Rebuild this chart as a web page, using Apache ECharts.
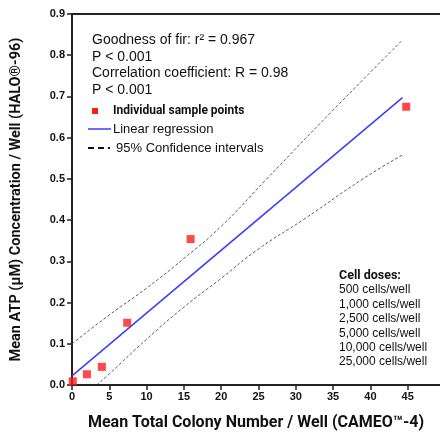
<!DOCTYPE html>
<html>
<head>
<meta charset="utf-8">
<script src="https://cdn.jsdelivr.net/npm/echarts@6/dist/echarts.min.js"></script>
<style>
  html, body { margin: 0; padding: 0; background: #fff; }
  #chart { width: 440px; height: 436px; }
</style>
</head>
<body>
<div id="chart"></div>
<script>
// sample points (CAMEO colonies vs HALO ATP)
var sampleX = [0.1, 2.0, 4.0, 7.4, 15.9, 44.8];
var sampleY = [0.009, 0.026, 0.044, 0.151, 0.354, 0.675];

// fitted line
var regX = [0, 44.3];
var regY = [0.022, 0.697];

// 95% confidence band
var upperX = [0, 5, 10, 15, 20, 26, 35, 44.3];
var upperY = [0.100, 0.170, 0.235, 0.307, 0.385, 0.498, 0.667, 0.837];
var lowerX = [3.3, 5, 10, 15, 19.8, 25, 31, 39, 44.3];
var lowerY = [0.0, 0.027, 0.111, 0.189, 0.256, 0.330, 0.401, 0.500, 0.558];

var statLines = [
  'Goodness of fir: r\u00b2 = 0.967',
  'P < 0.001',
  'Correlation coefficient: R = 0.98',
  'P < 0.001'
];
var doseLines = ['500 cells/well', '1,000 cells/well', '2,500 cells/well',
  '5,000 cells/well', '10,000 cells/well', '25,000 cells/well'];

function pairs(xs, ys) {
  return xs.map(function (x, i) { return [x, ys[i]]; });
}

// the original axis runs to 50 but the figure is cropped a few px before it
var xMax = 50 * 368 / 373;

var chart = echarts.init(document.getElementById('chart'));

var graphics = [];
statLines.forEach(function (t, i) {
  graphics.push({
    type: 'text', x: 92, y: 40 + i * 16.7,
    style: { text: t, font: '14px "Liberation Sans", Arial', fill: '#111', verticalAlign: 'middle' }
  });
});
// legend
graphics.push({ type: 'rect', shape: { x: 92, y: 108, width: 6, height: 6 }, style: { fill: '#ff1a1a' } });
graphics.push({
  type: 'text', x: 113, y: 111,
  style: { text: 'Individual sample points', font: 'bold 12px Roboto', fill: '#111', verticalAlign: 'middle' }
});
graphics.push({ type: 'line', shape: { x1: 88, y1: 129, x2: 111, y2: 129 }, style: { stroke: '#3b3bff', lineWidth: 1.5 } });
graphics.push({
  type: 'text', x: 113, y: 129,
  style: { text: 'Linear regression', font: '13px "Liberation Sans", Arial', fill: '#111', verticalAlign: 'middle' }
});
graphics.push({ type: 'line', shape: { x1: 88, y1: 148, x2: 110, y2: 148 }, style: { stroke: '#111', lineWidth: 2, lineDash: [6, 4] } });
graphics.push({
  type: 'text', x: 116, y: 148,
  style: { text: '95% Confidence intervals', font: '13px "Liberation Sans", Arial', fill: '#111', verticalAlign: 'middle' }
});
// cell doses
graphics.push({
  type: 'text', x: 339, y: 276,
  style: { text: 'Cell doses:', font: 'bold 12.5px Roboto', fill: '#111', verticalAlign: 'middle' }
});
doseLines.forEach(function (t, i) {
  graphics.push({
    type: 'text', x: 339, y: 290 + i * 14.4,
    style: { text: t, font: '12px "Liberation Sans", Arial', fill: '#111', verticalAlign: 'middle' }
  });
});

chart.setOption({
  animation: false,
  grid: { left: 72, top: 14, right: 0, bottom: 50 },
  xAxis: [{
    type: 'value', min: 0, max: xMax, interval: 5,
    name: 'Mean Total Colony Number / Well (CAMEO\u2122-4)',
    nameLocation: 'middle', nameGap: 30,
    nameTextStyle: { fontFamily: 'Roboto', fontWeight: 'bold', fontSize: 16, color: '#111' },
    axisLine: { lineStyle: { color: '#222', width: 2 } },
    axisTick: { length: 5, lineStyle: { color: '#222', width: 1.5 } },
    axisLabel: {
      margin: 6, fontFamily: '"Liberation Sans", Arial', fontWeight: 'bold', fontSize: 11, color: '#111',
      showMaxLabel: false
    },
    splitLine: { show: false }
  }, {
    // top frame line only
    type: 'value', position: 'top', min: 0, max: xMax,
    axisLine: { lineStyle: { color: '#222', width: 2 } },
    axisTick: { show: false }, axisLabel: { show: false }, splitLine: { show: false }
  }],
  yAxis: {
    type: 'value', min: 0, max: 0.9, interval: 0.1,
    name: 'Mean ATP (\u03bcM) Concentration / Well (HALO\u00ae-96)',
    nameLocation: 'middle', nameGap: 48,
    nameTextStyle: { fontFamily: 'Roboto', fontWeight: 'bold', fontSize: 14.5, color: '#111' },
    axisLine: { show: true, lineStyle: { color: '#222', width: 2 } },
    axisTick: { show: true, length: 5, lineStyle: { color: '#222', width: 1.5 } },
    axisLabel: {
      margin: 7, fontFamily: '"Liberation Sans", Arial', fontWeight: 'bold', fontSize: 11, color: '#111',
      formatter: function (v) { return v.toFixed(1); }
    },
    splitLine: { show: false }
  },
  series: [
    {
      type: 'line', data: pairs(upperX, upperY), smooth: true, symbol: 'none',
      lineStyle: { color: '#333', width: 0.8, type: [3, 2] }
    },
    {
      type: 'line', data: pairs(lowerX, lowerY), smooth: true, symbol: 'none',
      lineStyle: { color: '#333', width: 0.8, type: [3, 2] }
    },
    {
      type: 'line', data: pairs(regX, regY), symbol: 'none',
      lineStyle: { color: '#3b3bff', width: 1.5 }
    },
    {
      type: 'scatter', data: pairs(sampleX, sampleY), symbol: 'rect', symbolSize: 8,
      itemStyle: { color: '#ff1a1a' }, z: 5
    }
  ],
  graphic: graphics
});
</script>
</body>
</html>
